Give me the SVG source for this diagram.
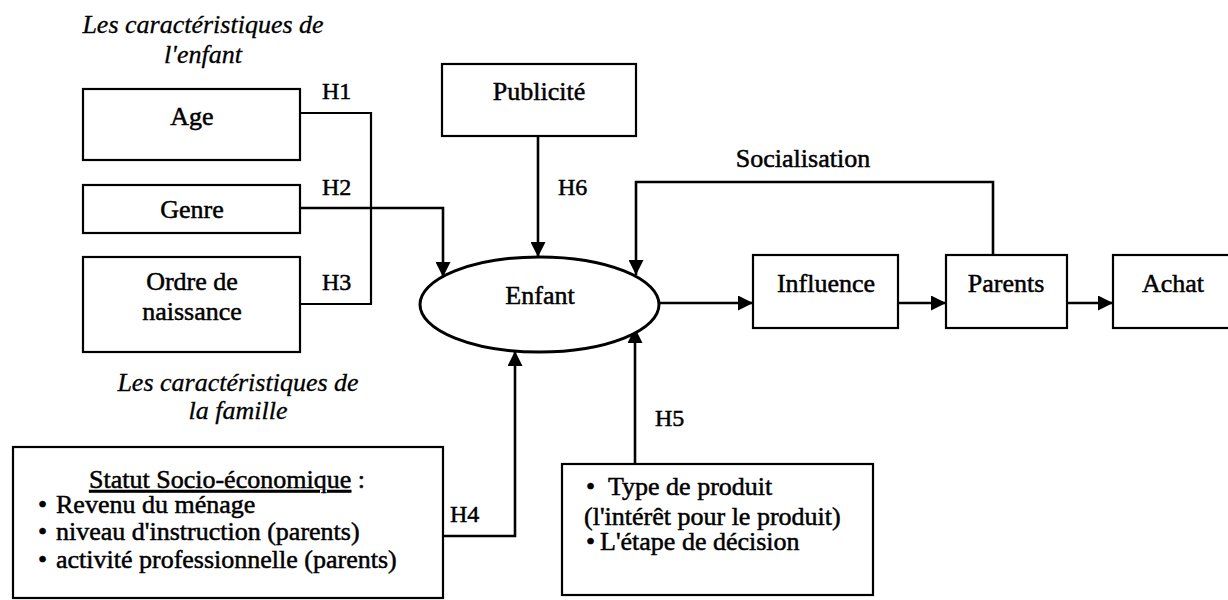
<svg xmlns="http://www.w3.org/2000/svg" width="1228" height="600" viewBox="0 0 1228 600">
  <style>
    .box { fill: #fff; stroke: #000; stroke-width: 2.2; }
    .ell { fill: #fff; stroke: #000; stroke-width: 3; }
    text { font-family: 'Liberation Serif', 'Times New Roman', serif; font-size: 26px; fill: #000; stroke: #000; stroke-width: 0.5; }
    .c { text-anchor: middle; }
    .h { font-size: 24px; }
    .it { font-style: italic; stroke-width: 0.3; }
    .wire { fill: none; stroke: #000; stroke-width: 2.2; }
    .arr { fill: none; stroke: #000; stroke-width: 2.6; marker-end: url(#tip); }
  </style>
  <defs>
    <marker id="tip" viewBox="0 0 10 10" refX="10" refY="5" markerWidth="15" markerHeight="15" markerUnits="userSpaceOnUse" orient="auto">
      <path d="M0,0 L10,5 L0,10 z" fill="#000"/>
    </marker>
  </defs>
  <rect width="1228" height="600" fill="#fff"/>

  <!-- section captions -->
  <text class="it c" x="203" y="33">Les caractéristiques de</text>
  <text class="it c" x="203" y="63">l'enfant</text>
  <text class="it c" x="238" y="391">Les caractéristiques de</text>
  <text class="it c" x="238" y="419">la famille</text>

  <!-- connectors -->
  <g id="connectors">
    <polyline class="wire" points="300,113 371,113 371,304 300,304"/>
    <polyline class="arr" points="300,208 443,208 443,277"/>
    <line class="arr" x1="538" y1="136" x2="538" y2="257"/>
    <polyline class="arr" points="993,255 993,182 636,182 636,275"/>
    <line class="arr" x1="659" y1="303" x2="753" y2="303"/>
    <line class="arr" x1="898" y1="303" x2="946" y2="303"/>
    <line class="arr" x1="1067" y1="303" x2="1113" y2="303"/>
    <polyline class="arr" points="443,536 515,536 515,351"/>
    <line class="arr" x1="635" y1="464" x2="635" y2="328"/>
    <text class="h" x="322" y="99">H1</text>
    <text class="h" x="322" y="195">H2</text>
    <text class="h" x="322" y="290">H3</text>
    <text class="h" x="558" y="195">H6</text>
    <text class="h" x="450" y="522">H4</text>
    <text class="h" x="655" y="426">H5</text>
    <text class="c" x="803" y="167">Socialisation</text>
  </g>

  <g id="age">
    <rect class="box" x="83" y="89" width="217" height="71"/>
    <text class="c" x="192" y="125">Age</text>
  </g>
  <g id="genre">
    <rect class="box" x="83" y="185" width="217" height="48"/>
    <text class="c" x="192" y="218">Genre</text>
  </g>
  <g id="ordre">
    <rect class="box" x="83" y="257" width="217" height="95"/>
    <text class="c" x="192" y="290">Ordre de</text>
    <text class="c" x="192" y="320">naissance</text>
  </g>
  <g id="publicite">
    <rect class="box" x="442" y="64" width="194" height="72"/>
    <text class="c" x="539" y="100">Publicité</text>
  </g>
  <g id="enfant">
    <ellipse class="ell" cx="539.5" cy="304.5" rx="119.5" ry="47.5"/>
    <text class="c" x="540" y="304">Enfant</text>
  </g>
  <g id="influence">
    <rect class="box" x="753" y="255" width="145" height="73"/>
    <text class="c" x="826" y="292">Influence</text>
  </g>
  <g id="parents">
    <rect class="box" x="946" y="255" width="121" height="73"/>
    <text class="c" x="1006" y="292">Parents</text>
  </g>
  <g id="achat">
    <rect class="box" x="1113" y="255" width="125" height="73"/>
    <text class="c" x="1173" y="292">Achat</text>
  </g>
  <g id="statut">
    <rect class="box" x="13" y="447" width="430" height="151"/>
    <text class="c" x="227" y="488"><tspan text-decoration="underline">Statut Socio-économique</tspan> :</text>
    <text x="38" y="513">•<tspan x="56">Revenu du ménage</tspan></text>
    <text x="38" y="540">•<tspan x="56">niveau d'instruction (parents)</tspan></text>
    <text x="38" y="568">•<tspan x="56">activité professionnelle (parents)</tspan></text>
  </g>
  <g id="produit">
    <rect class="box" x="562" y="464" width="311" height="131"/>
    <text x="586" y="495">•<tspan x="608">Type de produit</tspan></text>
    <text x="584" y="525">(l'intérêt pour le produit)</text>
    <text x="586" y="550">•<tspan x="600">L'étape de décision</tspan></text>
  </g>
</svg>
